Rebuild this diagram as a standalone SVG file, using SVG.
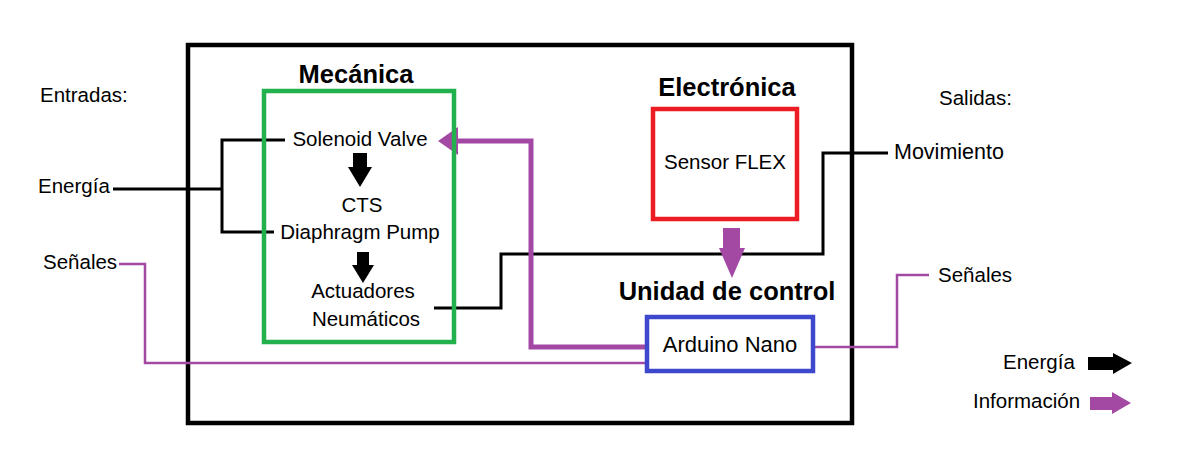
<svg xmlns="http://www.w3.org/2000/svg" width="1202" height="454" viewBox="0 0 1202 454">
<style>
text{font-family:"Liberation Sans",Arial,sans-serif;fill:#000}
.t{font-size:20.5px}
.b{font-size:25.5px;font-weight:bold}
.m{text-anchor:middle}
.blk{fill:none;stroke:#000;stroke-width:3}
.pth{fill:none;stroke:#a349a4;stroke-width:2.5}
.pk{fill:none;stroke:#a349a4;stroke-width:5}
.ab{fill:#000}
.ap{fill:#a349a4}
</style>
<rect width="1202" height="454" fill="#fff"/>
<g id="frame"><rect x="188" y="45" width="664" height="378" fill="none" stroke="#000" stroke-width="4.5"/></g>
<g id="connectors">
<polyline class="blk" points="113,189 222,189"/>
<polyline class="blk" points="285,140 222,140 222,232 274,232"/>
<polyline class="blk" points="434,308 501,308 501,254 823,254 823,153 888,153"/>
<polyline class="pth" points="119,264 145,264 145,363 646,363"/>
<polyline class="pth" points="815,347 897,347 897,275 929,275"/>
<polyline class="pk" points="646,347 531,347 531,141 456,141"/>
<polygon class="ap" points="438,141 458,127 458,155"/>
<path class="ab" d="M353,153 H367 V167 H372 L360,187 L348,167 H353 Z"/>
<path class="ab" d="M357,252 H369 V265 H374 L363,283 L352,265 H357 Z"/>
<path class="ap" d="M723,228 H740 V248 H745 L732,278 L719,248 H723 Z"/>
</g>
<g id="mecanica">
<text class="b m" x="356" y="83">Mecánica</text>
<rect x="264" y="91" width="190" height="251" fill="none" stroke="#22b14c" stroke-width="4.5"/>
<text class="t m" x="360" y="146">Solenoid Valve</text>
<text class="t m" x="362" y="212">CTS</text>
<text class="t m" x="360" y="239">Diaphragm Pump</text>
<text class="t m" x="363" y="298">Actuadores</text>
<text class="t m" x="366" y="326">Neumáticos</text>
</g>
<g id="electronica">
<text class="b m" x="727" y="96">Electrónica</text>
<rect x="653" y="109" width="144" height="110" fill="none" stroke="#ed1c24" stroke-width="4.5"/>
<text class="t m" x="725" y="169">Sensor FLEX</text>
</g>
<g id="control">
<text class="b m" x="727" y="300">Unidad de control</text>
<rect x="647" y="317" width="166" height="54" fill="#fff" stroke="#3f48cc" stroke-width="4.5"/>
<text class="t m" x="730" y="352" style="font-size:22px">Arduino Nano</text>
</g>
<g id="inputs">
<text class="t" x="40" y="102">Entradas:</text>
<text class="t" x="38" y="193">Energía</text>
<text class="t" x="43" y="269">Señales</text>
</g>
<g id="outputs">
<text class="t" x="939" y="105">Salidas:</text>
<text class="t" x="894" y="159" style="font-size:21.5px">Movimiento</text>
<text class="t" x="938" y="282">Señales</text>
</g>
<g id="legend">
<text class="t" x="1003" y="369">Energía</text>
<path class="ab" d="M1088,357 H1113 V353 L1132,363 L1113,374 V370 H1088 Z"/>
<text class="t" x="973" y="408">Información</text>
<path class="ap" d="M1090,397 H1112 V392 L1131,403 L1112,414 V410 H1090 Z"/>
</g>
</svg>
